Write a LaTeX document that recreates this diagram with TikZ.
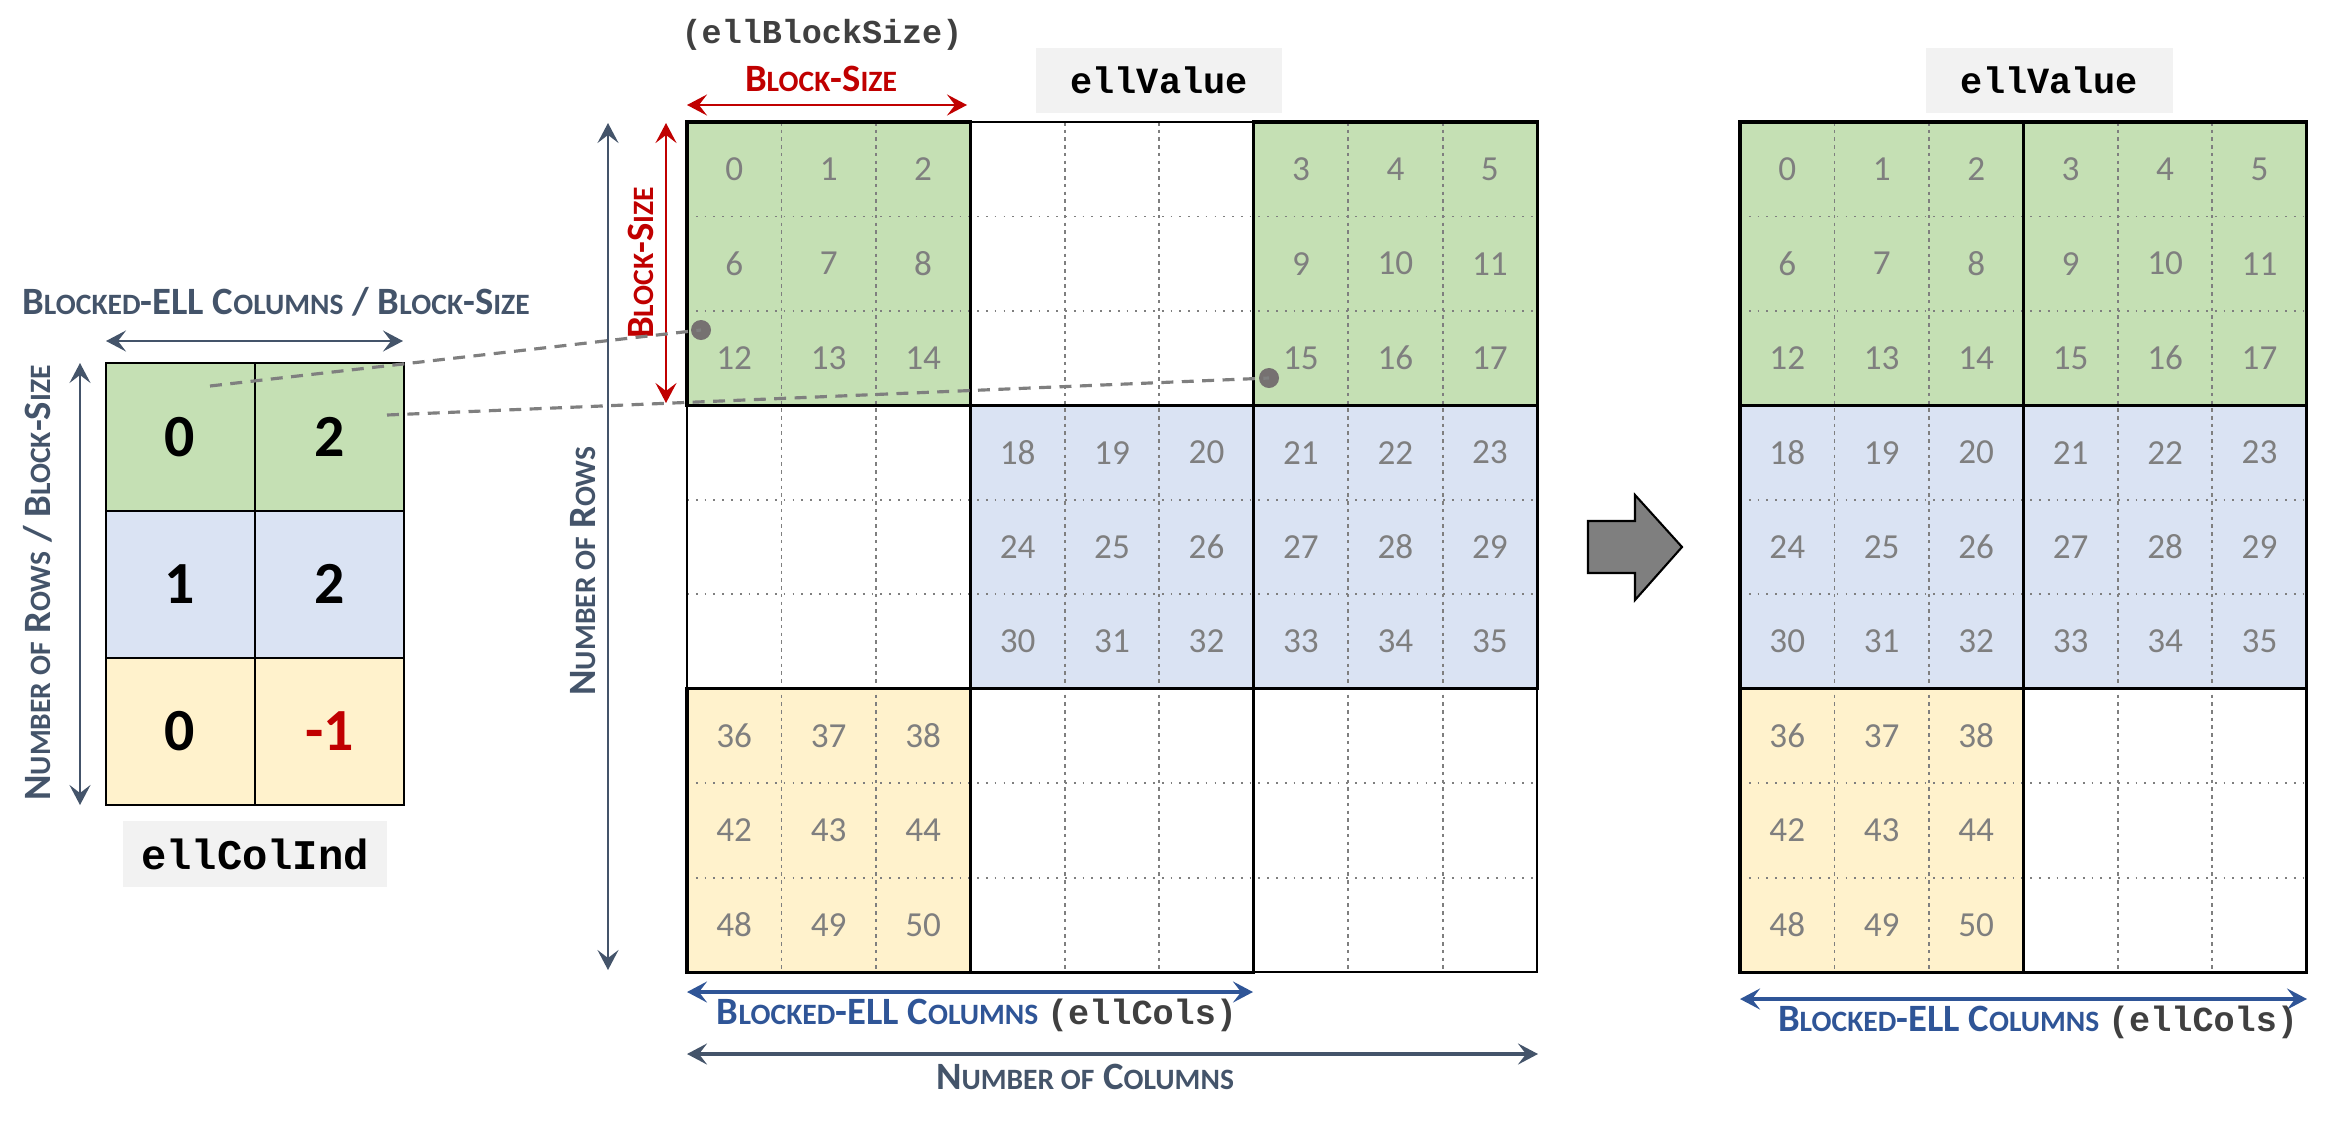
\documentclass[tikz,border=0pt]{standalone}
\usepackage{fontspec}
\setmainfont{Carlito}
\newfontfamily\codefont{Liberation Mono}
\usetikzlibrary{arrows.meta}

\definecolor{slate}{HTML}{44546A}
\definecolor{elblue}{HTML}{2F5597}
\definecolor{bsred}{HTML}{C00000}
\definecolor{gfill}{HTML}{C5E0B4}
\definecolor{bfill}{HTML}{DAE3F3}
\definecolor{yfill}{HTML}{FFF2CC}
\definecolor{numgray}{HTML}{7F7F7F}
\definecolor{codebg}{HTML}{F2F2F2}
\definecolor{codegray}{HTML}{404040}
\definecolor{dotgray}{HTML}{767171}

% fake small caps: big first letter, smaller rest
\newcommand{\smc}[2]{#1{\fontsize{8.4}{10}\selectfont#2}}

\tikzset{
  num/.style={text=numgray, font=\fontsize{10}{12}\selectfont},
  idx/.style={font=\fontsize{17}{20}\selectfont\bfseries},
  codebox/.style={fill=codebg, inner sep=0pt, minimum height=0.65cm},
  lbl/.style={font=\fontsize{11}{13}\selectfont\bfseries, inner sep=0pt},
  dimarr/.style={{Stealth[length=2mm,width=2.1mm,inset=0.8mm]}-{Stealth[length=2mm,width=2.1mm,inset=0.8mm]}},
  thickblk/.style={line width=0.9pt},
  hgrid/.style={draw=numgray, line width=0.5pt, dotted},
  vgrid/.style={draw=numgray, line width=0.5pt, dash pattern=on 1pt off 1.2pt},
  leader/.style={draw=numgray, line width=0.9pt, dash pattern=on 3.4pt off 2.4pt},
  dot/.style={circle, fill=dotgray, inner sep=0pt, minimum size=0.2cm},
}

\begin{document}
\begin{tikzpicture}[x=0.01cm, y=-0.01cm]
    \useasboundingbox (0,0) rectangle (2328,1121);

    % 1. ellColInd matrix on the left
    \fill[gfill] (106,363) rectangle (404,511);
    \fill[bfill] (106,511) rectangle (404,658);
    \fill[yfill] (106,658) rectangle (404,805);
    \draw[line width=0.7pt] (106,363) rectangle (404,805);
    \draw[line width=0.7pt] (255,363) -- (255,805) (106,511) -- (404,511) (106,658) -- (404,658);
    \node[idx] (ci00) at (180,437) {0};
    \node[idx] (ci01) at (330,437) {2};
    \node[idx] (ci10) at (180,584) {1};
    \node[idx] (ci11) at (330,584) {2};
    \node[idx] (ci20) at (180,731) {0};
    \node[idx, text=bsred] (ci21) at (330,731) {-1};
    \node[codebox, minimum width=2.64cm, font=\codefont\bfseries\fontsize{12}{14}\selectfont] (colInd) at (255,854) {ellColInd};

    % 2. blocked matrix (9 x 9 cells)
    \begin{scope}[shift={(687,122)}, x=0.944cm, y=-0.944cm]
        \fill[gfill] (0,0) rectangle (3,3);
        \fill[gfill] (6,0) rectangle (9,3);
        \fill[bfill] (3,3) rectangle (9,6);
        \fill[yfill] (0,6) rectangle (3,9);
        \foreach \i in {1,2,4,5,7,8} {
            \draw[hgrid] (0,\i) -- (9,\i);
            \draw[vgrid] (\i,0) -- (\i,9);
        }
        \draw[line width=0.4pt] (0,0) rectangle (9,9);
        \draw[line width=0.4pt] (3,0) -- (3,9) (6,0) -- (6,9) (0,3) -- (9,3) (0,6) -- (9,6);
        \foreach \a/\b in {0/0,6/0,3/3,6/3,0/6,3/6}
            \draw[thickblk] (\a,\b) rectangle ++(3,3);
        \foreach \bc/\br/\vz in {0/0/0,2/0/3,1/1/18,2/1/21,0/2/36}
            \foreach \r in {0,1,2}
                \foreach \c in {0,1,2} {
                    \pgfmathtruncatemacro\v{\vz+6*\r+\c}
                    \node[num] (m\v) at (3*\bc+\c+0.5, 3*\br+\r+0.5) {\v};
                }
    \end{scope}

    % 3. compressed ellValue (6 x 9 cells)
    \begin{scope}[shift={(1740,122)}, x=0.944cm, y=-0.944cm]
        \fill[gfill] (0,0) rectangle (6,3);
        \fill[bfill] (0,3) rectangle (6,6);
        \fill[yfill] (0,6) rectangle (3,9);
        \foreach \i in {1,2,4,5,7,8}
            \draw[hgrid] (0,\i) -- (6,\i);
        \foreach \i in {1,2,4,5}
            \draw[vgrid] (\i,0) -- (\i,9);
        \foreach \a/\b in {0/0,3/0,0/3,3/3,0/6,3/6}
            \draw[thickblk] (\a,\b) rectangle ++(3,3);
        \foreach \bc/\br/\vz in {0/0/0,1/0/3,0/1/18,1/1/21,0/2/36}
            \foreach \r in {0,1,2}
                \foreach \c in {0,1,2} {
                    \pgfmathtruncatemacro\v{\vz+6*\r+\c}
                    \node[num] (r\v) at (3*\bc+\c+0.5, 3*\br+\r+0.5) {\v};
                }
    \end{scope}

    % 4. array names
    \node[codebox, minimum width=2.46cm, font=\codefont\bfseries\fontsize{10.5}{12}\selectfont] (valA) at (1159,80.5) {ellValue};
    \node[codebox, minimum width=2.46cm, font=\codefont\bfseries\fontsize{10.5}{12}\selectfont] (valB) at (2049.5,80.5) {ellValue};
    \node[font=\codefont\bfseries\fontsize{9.5}{12}\selectfont, text=codegray] (bsName) at (822,35) {(ellBlockSize)};

    % 5. dimension arrows and their labels
    \coordinate (ciW) at (106,341);   \coordinate (ciE) at (403,341);
    \coordinate (ciN) at (80,363);    \coordinate (ciS) at (80,805);
    \coordinate (bsW) at (687,105);   \coordinate (bsE) at (967,105);
    \coordinate (bsN) at (666,123);   \coordinate (bsS) at (666,403);
    \coordinate (rowN) at (608,123);  \coordinate (rowS) at (608,970);
    \coordinate (ecW) at (687,992);   \coordinate (ecE) at (1253,992);
    \coordinate (colW) at (687,1054); \coordinate (colE) at (1538,1054);
    \coordinate (erW) at (1740,999);  \coordinate (erE) at (2307,999);

    \draw[dimarr, draw=slate, line width=0.7pt] (ciW) -- (ciE);
    \draw[dimarr, draw=slate, line width=0.7pt] (ciN) -- (ciS);
    \draw[dimarr, draw=bsred, line width=0.7pt] (bsW) -- (bsE);
    \draw[dimarr, draw=bsred, line width=0.7pt] (bsN) -- (bsS);
    \draw[dimarr, draw=slate, line width=0.6pt] (rowN) -- (rowS);
    \draw[dimarr, draw=elblue, line width=0.9pt] (ecW) -- (ecE);
    \draw[dimarr, draw=slate, line width=0.9pt] (colW) -- (colE);
    \draw[dimarr, draw=elblue, line width=0.9pt] (erW) -- (erE);

    \node[lbl, text=slate] (ciCols) at (276,302) {\smc{B}{LOCKED}-ELL \smc{C}{OLUMNS} / \smc{B}{LOCK}-\smc{S}{IZE}};
    \node[lbl, text=slate, rotate=90] (ciRows) at (38,583) {\smc{N}{UMBER OF} \smc{R}{OWS} / \smc{B}{LOCK}-\smc{S}{IZE}};
    \node[lbl, text=bsred] (bsTop) at (821,79) {\smc{B}{LOCK}-\smc{S}{IZE}};
    \node[lbl, text=bsred, rotate=90] (bsSide) at (641,263) {\smc{B}{LOCK}-\smc{S}{IZE}};
    \node[lbl, text=slate, rotate=90] (rowsLbl) at (583,571) {\smc{N}{UMBER OF} \smc{R}{OWS}};
    \node[lbl, text=elblue] (ecLbl) at (977,1015) {\smc{B}{LOCKED}-ELL \smc{C}{OLUMNS} {\codefont\fontsize{10}{12}\selectfont\color{codegray}(ellCols)}};
    \node[lbl, text=slate] (colsLbl) at (1085,1077) {\smc{N}{UMBER OF} \smc{C}{OLUMNS}};
    \node[lbl, text=elblue] (erLbl) at (2038,1022) {\smc{B}{LOCKED}-ELL \smc{C}{OLUMNS} {\codefont\fontsize{10}{12}\selectfont\color{codegray}(ellCols)}};

    % 6. leader lines from ellColInd to the blocks
    \coordinate (ptA) at (210,386);
    \coordinate (ptB) at (387,415);
    \node[dot] (dotA) at (701,330) {};
    \node[dot] (dotB) at (1269,378) {};
    \draw[leader] (ptA) -- (dotA.center);
    \draw[leader] (ptB) -- (dotB.center);

    % 7. big arrow
    \draw[fill=numgray, line width=0.6pt] (1588,521) -- (1635,521) -- (1635,495) -- (1682,547)
        -- (1635,600) -- (1635,573) -- (1588,573) -- cycle;

\end{tikzpicture}
\end{document}
